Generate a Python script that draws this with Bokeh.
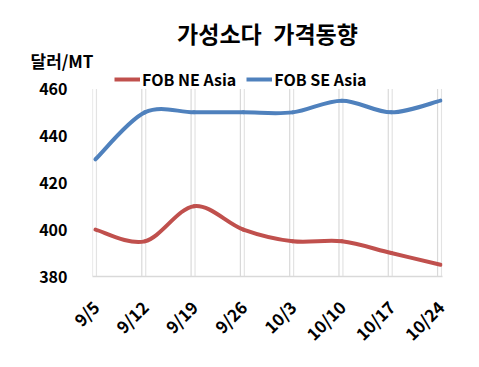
import math
from bokeh.plotting import figure
from bokeh.models import Range1d, FixedTicker, Legend, LegendItem, Title, ColumnDataSource
from bokeh.embed import file_html
from bokeh.resources import INLINE

dates = ["9/5", "9/12", "9/19", "9/26", "10/3", "10/10", "10/17", "10/24"]
ne_asia = [400, 395, 410, 400, 395, 395, 390, 385]
se_asia = [430, 450, 450, 450, 450, 455, 450, 455]
y_ticks = [380, 400, 420, 440, 460]

FONT = "Noto Sans CJK KR"
RED = "#C0504D"
BLUE = "#4F81BD"

xs = list(range(len(dates)))

p = figure(width=471, height=359, output_backend="svg", toolbar_location=None,
           x_range=Range1d(-0.06, 7.04), y_range=Range1d(380, 467),
           min_border_left=92, min_border_right=29, min_border_top=72, min_border_bottom=83)
p.outline_line_color = None
p.background_fill_color = "white"
p.grid.grid_line_color = None

# vertical grid pairs, drawn only over the value band
ylo, yhi = min(y_ticks), max(y_ticks)
for off, col in ((-0.06, "#D9D9D9"), (0.02, "#E3E3E3")):
    p.segment(x0=[x + off for x in xs], y0=[ylo] * len(xs), x1=[x + off for x in xs],
              y1=[yhi] * len(xs), line_color=col, line_width=1.2)

def spline(ys):
    n = len(ys)
    x0, y0, x1, y1, cx0, cy0, cx1, cy1 = [], [], [], [], [], [], [], []
    for i in range(n - 1):
        pm = i - 1 if i > 0 else i
        pp = i + 2 if i + 2 < n else i + 1
        x0.append(xs[i]); y0.append(ys[i]); x1.append(xs[i + 1]); y1.append(ys[i + 1])
        cx0.append(xs[i] + (xs[i + 1] - xs[pm]) / 6.0)
        cy0.append(ys[i] + (ys[i + 1] - ys[pm]) / 6.0)
        cx1.append(xs[i + 1] - (xs[pp] - xs[i]) / 6.0)
        cy1.append(ys[i + 1] - (ys[pp] - ys[i]) / 6.0)
    return ColumnDataSource(dict(x0=x0, y0=y0, x1=x1, y1=y1, cx0=cx0, cy0=cy0, cx1=cx1, cy1=cy1))

for ys, col in ((ne_asia, RED), (se_asia, BLUE)):
    p.bezier(x0="x0", y0="y0", x1="x1", y1="y1", cx0="cx0", cy0="cy0", cx1="cx1", cy1="cy1",
             source=spline(ys), line_color=col, line_width=4, line_cap="round")

r_ne = p.line(x=xs, y=ne_asia, line_color=RED, line_width=4, visible=False)
r_se = p.line(x=xs, y=se_asia, line_color=BLUE, line_width=4, visible=False)
legend = Legend(items=[LegendItem(label="FOB NE Asia", renderers=[r_ne]),
                       LegendItem(label="FOB SE Asia", renderers=[r_se])],
                orientation="horizontal", location=(22, 185),
                label_text_font=FONT, label_text_font_size="16px", label_text_font_style="bold",
                label_text_color="black",
                background_fill_alpha=0, border_line_color=None,
                inactive_fill_alpha=0, click_policy="none",
                glyph_width=26, glyph_height=14, label_standoff=2, spacing=10,
                padding=0, margin=0, label_height=14)
p.add_layout(legend, "center")

unit = Title(text="달러/MT", align="left", offset=-62, text_font=FONT, text_font_size="17px",
             text_font_style="bold", text_color="black", standoff=0)
p.add_layout(unit, "above")

p.title.text = "가성소다\u2002가격동향"
p.title.text_font = FONT
p.title.text_font_size = "23px"
p.title.text_font_style = "bold"
p.title.align = "center"
p.title.text_color = "black"
p.title.standoff = -9

# axes
p.xaxis.ticker = FixedTicker(ticks=xs)
p.xaxis.major_label_overrides = {i: d for i, d in enumerate(dates)}
p.xaxis.major_label_orientation = math.pi / 4
p.xaxis.major_label_text_font = FONT
p.xaxis.major_label_text_font_size = "17px"
p.xaxis.major_label_text_font_style = "bold"
p.xaxis.major_label_text_color = "black"
p.xaxis.major_tick_line_color = None
p.xaxis.minor_tick_line_color = None
p.xaxis.axis_line_color = "#D9D9D9"
p.xaxis.axis_line_width = 1.5
p.xaxis.major_label_standoff = 21

p.yaxis.ticker = FixedTicker(ticks=y_ticks)
p.yaxis.major_label_text_font = FONT
p.yaxis.major_label_text_font_size = "16px"
p.yaxis.major_label_text_font_style = "bold"
p.yaxis.major_label_text_color = "black"
p.yaxis.major_tick_line_color = None
p.yaxis.minor_tick_line_color = None
p.yaxis.axis_line_color = None
p.yaxis.major_label_standoff = 19

open("out.html", "w").write(file_html(p, INLINE))
